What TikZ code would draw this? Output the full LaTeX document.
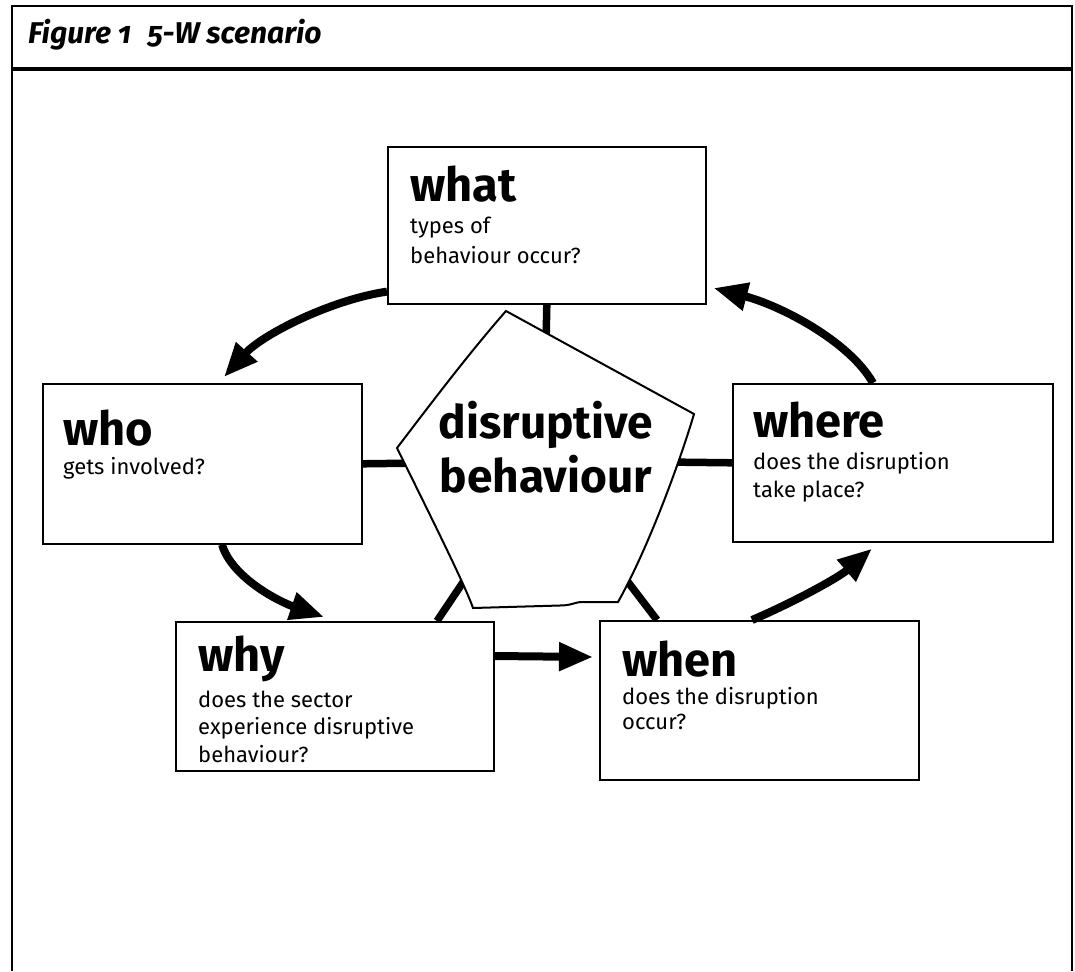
\documentclass[tikz,border=0pt]{standalone}
\usepackage{fontspec}
\setmainfont{Fira Sans}
\newfontfamily\titlefont{Fira Sans}[Numbers=OldStyle]
\usetikzlibrary{arrows.meta,calc}
\begin{document}
\begin{tikzpicture}[x=1pt,y=-1pt,
  frameline/.style={line width=1.6pt},
  wbox/.style={draw, line width=1.6pt, fill=white, inner sep=0pt, anchor=north west},
  spoke/.style={line width=7.5pt},
  flow/.style={line width=8pt, -{Triangle[length=34pt,width=27pt]}},
  headword/.style={inner sep=0pt, anchor=base west, font=\bfseries\fontsize{47}{47}\selectfont},
  desc/.style={inner sep=0pt, anchor=base west},
]
\useasboundingbox (0,0) rectangle (1075,971);

% outer frame and header band
\draw[frameline] (12,971) -- (12,6) -- (1072,6) -- (1072,971);
\draw[line width=3.5pt] (12,69) -- (1072,69);
\node[inner sep=0pt, anchor=base west, font=\titlefont\bfseries\itshape\fontsize{30}{30}\selectfont]
  (title) at (28,44) {Figure 1\hspace{0.55em}5-W scenario};

% the five question boxes
\node[wbox, minimum width=318pt, minimum height=157pt] (what)  at (387,146) {};
\node[wbox, minimum width=319pt, minimum height=160pt] (who)   at (42,383) {};
\node[wbox, minimum width=318pt, minimum height=149pt] (why)   at (175,621) {};
\node[wbox, minimum width=319pt, minimum height=159pt] (when)  at (599,620) {};
\node[wbox, minimum width=320pt, minimum height=158pt] (where) at (732,383) {};

% spokes from the boxes to the centre
\coordinate (cWhat)  at (546,345);
\coordinate (cWho)   at (425,463);
\coordinate (cWhere) at (665,462);
\coordinate (cWhy)   at (478,560);
\coordinate (cWhen)  at (615,565);
\draw[spoke] (what.south) -- (cWhat);
\draw[spoke] (who.east) -- (cWho);
\draw[spoke] (where.west) -- (cWhere);
\draw[spoke] ($(why.north west)+(262,0)$) -- (cWhy);
\draw[spoke] ($(when.north west)+(58,0)$) -- (cWhen);

% centre pentagon
\coordinate (pT)  at (506,311);
\coordinate (pR)  at (694,414);
\coordinate (pLR) at (618,602);
\coordinate (pLL) at (473,608);
\coordinate (pL)  at (397,448);
\draw[line width=2pt, fill=white, line join=miter]
  (pT) -- (pR)
  .. controls (682,455) and (650,545) .. (pLR)
  -- (583,602) .. controls (574,602) and (572,605.5) .. (560,605.5)
  -- (pLL)
  .. controls (465,585) and (430,515) .. (pL)
  .. controls (432,402) and (470,352) .. (pT) -- cycle;
\node[inner sep=0pt, anchor=base, font=\bfseries\fontsize{46}{54}\selectfont] (centre) at (546,438)
  {\parbox[t]{320pt}{\centering disruptive\\behaviour}};

% flow arrows around the cycle
\draw[flow] ($(what.south west)+(0,-13)$)
  .. controls (330,300) and (262,335) .. ($(who.north west)+(182,-6)$);
\draw[flow] ($(who.south west)+(180,0)$)
  .. controls (232,578) and (280,602) .. ($(why.north west)+(149,-4)$);
\draw[flow] ($(why.north east)+(0,35)$) -- ($(when.north west)+(-6,37)$);
\draw[flow] ($(when.north west)+(153,0)$)
  .. controls (792,603) and (838,578) .. ($(where.south west)+(140,6)$);
\draw[flow] ($(where.north west)+(141,0)$)
  .. controls (850,342) and (782,306) .. ($(what.north east)+(7,142)$);

% box texts
\node[headword] (whatH) at (410,201) {what};
\node[desc] (whatD) at (410,233) {\parbox[t]{280pt}{\fontsize{22}{30}\selectfont types of\\behaviour occur?}};
\node[headword] (whoH) at (63,445) {who};
\node[desc] (whoD) at (63,474) {\parbox[t]{280pt}{\fontsize{22}{30}\selectfont gets involved?}};
\node[headword] (whyH) at (198,671) {why};
\node[desc] (whyD) at (198,707) {\parbox[t]{290pt}{\fontsize{22}{27.5}\selectfont does the sector\\experience disruptive\\behaviour?}};
\node[headword] (whenH) at (622,676) {when};
\node[desc] (whenD) at (622,704) {\parbox[t]{290pt}{\fontsize{22}{25}\selectfont does the disruption\\occur?}};
\node[headword] (whereH) at (753,437) {where};
\node[desc] (whereD) at (753,469) {\parbox[t]{290pt}{\fontsize{22}{28}\selectfont does the disruption\\take place?}};
\end{tikzpicture}
\end{document}
